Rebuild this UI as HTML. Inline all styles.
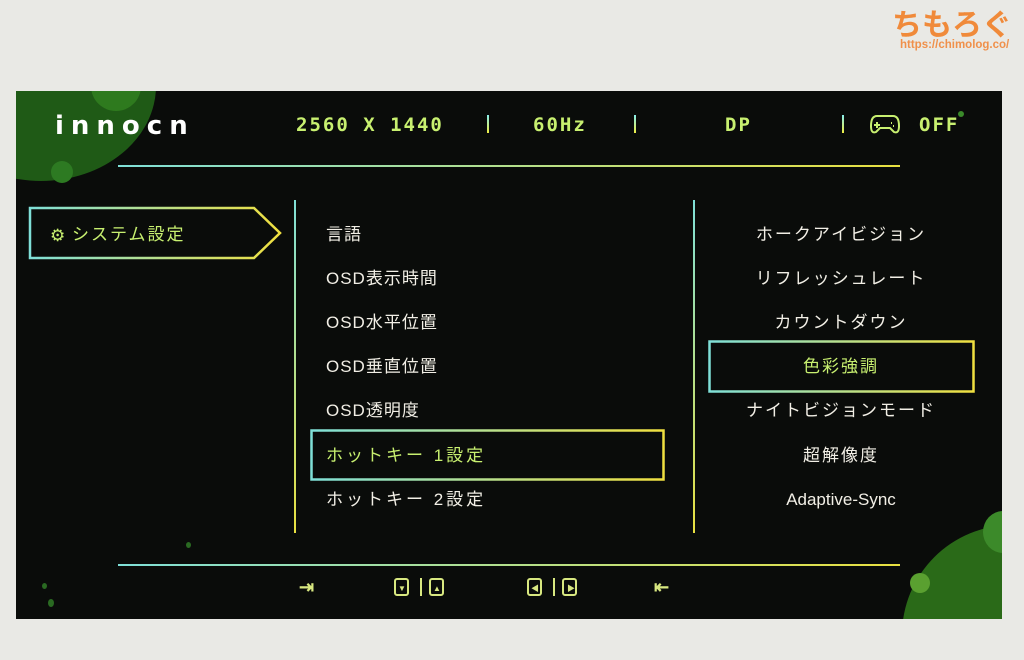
<!DOCTYPE html>
<html><head><meta charset="utf-8"><style>
html,body{margin:0;padding:0;width:1024px;height:660px;overflow:hidden;}
body{background:#e9e9e5;position:relative;font-family:"Liberation Sans","Noto Sans CJK JP",sans-serif;}
.scr{position:absolute;left:16px;top:91px;width:986px;height:528px;background:#0a0c0a;overflow:hidden;}
.a{position:absolute;}
.c{position:absolute;border-radius:50%;}
.t{position:absolute;color:#f2efe6;font-size:17px;line-height:20px;white-space:nowrap;letter-spacing:1px;}
.r{position:absolute;color:#f2efe6;font-size:17px;line-height:20px;white-space:nowrap;width:300px;text-align:center;left:691px;letter-spacing:2px;}
.h{position:absolute;color:#c8f070;font-family:"DejaVu Sans Mono",monospace;font-weight:bold;font-size:19px;line-height:22px;top:114px;white-space:nowrap;letter-spacing:2px;}
.bar{position:absolute;width:2px;height:18px;top:115px;background:linear-gradient(#8ee,#ee4);}
.ic{position:absolute;top:578px;width:15px;height:18px;border:2px solid #d8e880;border-radius:3px;box-sizing:border-box;}
</style></head><body>
<div class="a" style="left:892px;top:2px;font-size:30px;font-weight:bold;color:#f08a3a;font-family:'Noto Sans CJK JP',sans-serif;line-height:40px;">ちもろぐ</div>
<div class="a" style="left:900px;top:39px;font-size:11.5px;font-weight:bold;color:#f0904a;white-space:nowrap;">https://chimolog.co/</div>
<div class="scr">
 <div class="c" style="left:-90px;top:-100px;width:230px;height:190px;background:#1f5a16;"></div>
 <div class="c" style="left:75px;top:-30px;width:50px;height:50px;background:#2e7a1e;"></div>
 <div class="c" style="left:35px;top:70px;width:22px;height:22px;background:#2d7a22;"></div>
 <div class="c" style="left:942px;top:20px;width:6px;height:6px;background:#3a8a2a;"></div>
 <div class="c" style="left:886px;top:434px;width:220px;height:220px;background:#2a6a18;"></div>
 <div class="c" style="left:967px;top:420px;width:40px;height:42px;background:#3c8a2a;"></div>
 <div class="c" style="left:894px;top:482px;width:20px;height:20px;background:#5aa030;"></div>
 <div class="c" style="left:170px;top:451px;width:5px;height:6px;background:#2a6a22;"></div>
 <div class="c" style="left:26px;top:492px;width:5px;height:6px;background:#2a6a22;"></div>
 <div class="c" style="left:32px;top:508px;width:6px;height:8px;background:#2a6a22;"></div>
</div>
<div class="a" style="left:55px;top:112px;font-size:26px;font-weight:bold;color:#fff;letter-spacing:7px;font-family:'DejaVu Sans',sans-serif;line-height:28px;">innocn</div>
<div class="h" style="left:296px;">2560 X 1440</div>
<div class="bar" style="left:487px;"></div>
<div class="h" style="left:533px;">60Hz</div>
<div class="bar" style="left:634px;"></div>
<div class="h" style="left:725px;">DP</div>
<div class="bar" style="left:842px;"></div>
<svg class="a" style="left:869px;top:112px" width="32" height="24" viewBox="0 0 32 24"><path d="M8 4 H24 Q30 4 30 14 Q30 22 25 20 L21 16 H11 L7 20 Q2 22 2 14 Q2 4 8 4Z" fill="none" stroke="#c8f070" stroke-width="2"/><path d="M8 10v6M5 13h6M22 11h1M24 14h1" stroke="#c8f070" stroke-width="2"/></svg>
<div class="h" style="left:919px;">OFF</div>
<div class="a" style="left:118px;top:165px;width:782px;height:2px;background:linear-gradient(90deg,#7fe0d8,#e8e040);"></div>
<div class="a" style="left:118px;top:564px;width:782px;height:2px;background:linear-gradient(90deg,#7fe0d8,#e8e040);"></div>
<svg class="a" style="left:28px;top:206px" width="258" height="56"><defs><linearGradient id="g" x1="0" x2="1"><stop offset="0" stop-color="#7fe0d8"/><stop offset="1" stop-color="#f0e040"/></linearGradient></defs><path d="M2 2H226L252 27L226 52H2Z" fill="none" stroke="url(#g)" stroke-width="2.5"/></svg>
<div class="a" style="left:50px;top:226px;color:#c8f070;font-size:17px;line-height:20px;">⚙</div>
<div class="a" style="left:72px;top:225px;color:#c8f070;font-size:17px;line-height:20px;letter-spacing:2px;">システム設定</div>
<div class="a" style="left:294px;top:200px;width:2px;height:333px;background:linear-gradient(#7fe0d8,#e8e040);"></div>
<div class="a" style="left:693px;top:200px;width:2px;height:333px;background:linear-gradient(#7fe0d8,#e8e040);"></div>
<div class="t" style="left:326px;top:225px;">言語</div>
<div class="t" style="left:326px;top:269px;">OSD表示時間</div>
<div class="t" style="left:326px;top:313px;">OSD水平位置</div>
<div class="t" style="left:326px;top:357px;">OSD垂直位置</div>
<div class="t" style="left:326px;top:401px;">OSD透明度</div>
<svg class="a" style="left:310px;top:429px" width="356" height="53"><defs><linearGradient id="g2" x1="0" x2="1"><stop offset="0" stop-color="#7fe0d8"/><stop offset="1" stop-color="#f0e040"/></linearGradient></defs><rect x="1.5" y="1.5" width="352" height="49" fill="none" stroke="url(#g2)" stroke-width="2.5"/></svg>
<div class="t" style="left:326px;top:446px;color:#c8f070;letter-spacing:3px;">ホットキー 1設定</div>
<div class="t" style="left:326px;top:490px;letter-spacing:3px;">ホットキー 2設定</div>
<div class="r" style="top:225px;">ホークアイビジョン</div>
<div class="r" style="top:269px;">リフレッシュレート</div>
<div class="r" style="top:313px;">カウントダウン</div>
<svg class="a" style="left:708px;top:340px" width="268" height="54"><defs><linearGradient id="g3" x1="0" x2="1"><stop offset="0" stop-color="#7fe0d8"/><stop offset="1" stop-color="#f0e040"/></linearGradient></defs><rect x="1.5" y="1.5" width="264" height="50" fill="none" stroke="url(#g3)" stroke-width="2.5"/></svg>
<div class="r" style="top:357px;color:#c8f070;">色彩強調</div>
<div class="r" style="top:401px;">ナイトビジョンモード</div>
<div class="r" style="top:446px;">超解像度</div>
<div class="r" style="top:490px;letter-spacing:0;">Adaptive-Sync</div>
<div class="a" style="left:299px;top:577px;color:#d8e880;font-size:18px;font-weight:bold;line-height:20px;">⇥</div>
<div class="ic" style="left:394px;"></div><div class="a" style="left:398px;top:584px;color:#d8e880;font-size:8px;">▼</div>
<div class="a" style="left:420px;top:578px;width:2px;height:18px;background:#d8e880;"></div>
<div class="ic" style="left:429px;"></div><div class="a" style="left:433px;top:584px;color:#d8e880;font-size:8px;">▲</div>
<div class="ic" style="left:527px;"></div><div class="a" style="left:531px;top:583px;color:#d8e880;font-size:8px;">◀</div>
<div class="a" style="left:553px;top:578px;width:2px;height:18px;background:#d8e880;"></div>
<div class="ic" style="left:562px;"></div><div class="a" style="left:567px;top:583px;color:#d8e880;font-size:8px;">▶</div>
<div class="a" style="left:654px;top:577px;color:#d8e880;font-size:18px;font-weight:bold;line-height:20px;">⇤</div>
</body></html>
